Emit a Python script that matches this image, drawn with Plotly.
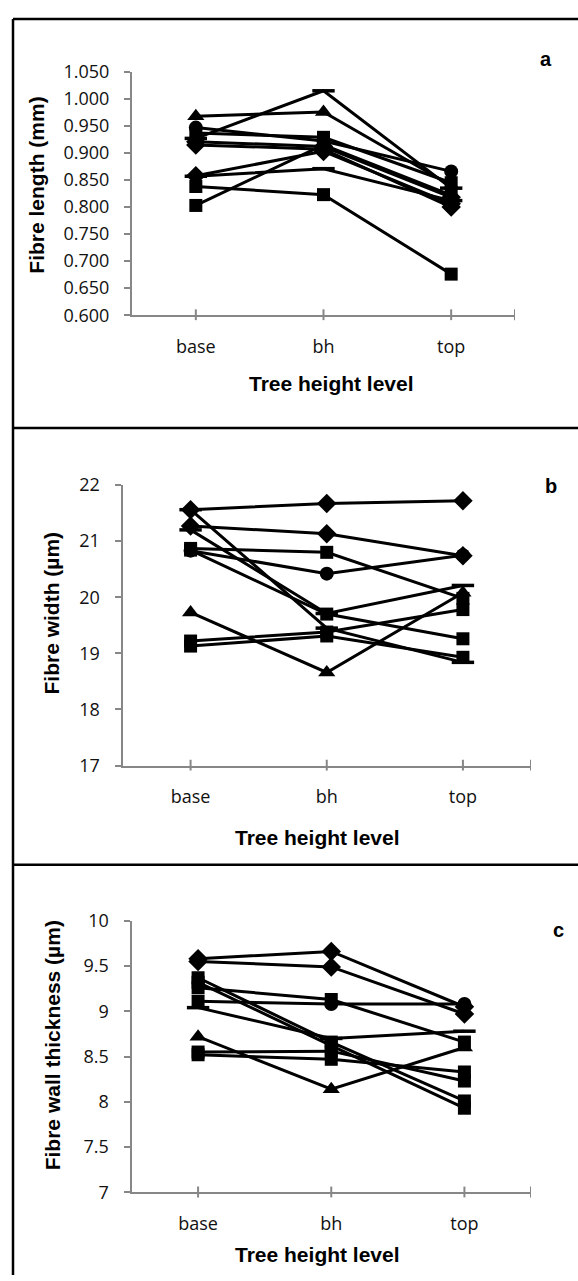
import plotly.graph_objects as go

# ---------------- data ----------------
levels = ["base", "bh", "top"]

# Panel a: fibre length (mm)
len_s1 = [0.968, 0.976, 0.840]
len_s2 = [0.927, 1.015, 0.835]
len_s3 = [0.803, 0.915, 0.822]
len_s4 = [0.838, 0.823, 0.676]
len_s5 = [0.857, 0.871, 0.812]
len_s6 = [0.858, 0.903, 0.806]
len_s7 = [0.947, 0.922, 0.866]
len_s8 = [0.937, 0.929, 0.845]
len_s9 = [0.921, 0.912, 0.818]
len_s10 = [0.915, 0.907, 0.800]

# Panel b: fibre width (um)
wid_s1 = [21.56, 21.67, 21.72]
wid_s2 = [21.27, 21.13, 20.74]
wid_s3 = [21.56, 19.45, 18.84]
wid_s4 = [21.20, 19.71, 20.21]
wid_s5 = [20.87, 20.80, 19.98]
wid_s6 = [20.83, 20.42, 20.75]
wid_s7 = [20.84, 19.70, 19.26]
wid_s8 = [19.73, 18.66, 20.08]
wid_s9 = [19.22, 19.38, 19.78]
wid_s10 = [19.13, 19.31, 18.93]

# Panel c: fibre wall thickness (um)
wall_s1 = [9.58, 9.66, 9.05]
wall_s2 = [9.55, 9.49, 8.97]
wall_s3 = [9.26, 9.13, 8.66]
wall_s4 = [9.11, 9.08, 9.08]
wall_s5 = [9.37, 8.66, 8.01]
wall_s6 = [9.32, 8.62, 7.93]
wall_s7 = [9.04, 8.70, 8.78]
wall_s8 = [8.72, 8.14, 8.60]
wall_s9 = [8.55, 8.56, 8.23]
wall_s10 = [8.52, 8.47, 8.33]

len_ticks = [0.600, 0.650, 0.700, 0.750, 0.800, 0.850, 0.900, 0.950, 1.000, 1.050]
wid_ticks = [17, 18, 19, 20, 21, 22]
wall_ticks = [7, 7.5, 8, 8.5, 9, 9.5, 10]

len_series = [(len_s1, "triangle-up"), (len_s2, "line-ew"), (len_s3, "square"), (len_s4, "square"),
              (len_s5, "line-ew"), (len_s6, "diamond"), (len_s7, "circle"), (len_s8, "square"),
              (len_s9, "diamond"), (len_s10, "diamond")]
wid_series = [(wid_s1, "diamond"), (wid_s2, "diamond"), (wid_s3, "line-ew"), (wid_s4, "line-ew"),
              (wid_s5, "square"), (wid_s6, "circle"), (wid_s7, "square"), (wid_s8, "triangle-up"),
              (wid_s9, "square"), (wid_s10, "square")]
wall_series = [(wall_s1, "diamond"), (wall_s2, "diamond"), (wall_s4, ["square", "circle", "circle"]),
               (wall_s3, "square"), (wall_s5, "square"), (wall_s6, "square"), (wall_s7, "line-ew"),
               (wall_s8, "triangle-up"), (wall_s9, "square"), (wall_s10, "square")]

# ---------------- layout geometry (pixels) ----------------
W, H = 578, 1281
def px(x):
    return x / W
def py(y):
    return 1 - y / H

panels = [
    dict(series=len_series, ytitle="Fibre length (mm)", yrange=[0.600, 1.050], ticks=len_ticks, fmt=".3f",
         x0=132, x1=515, ytop=60, ybot=308, letter="a", lpos=(546, 47), ytpos=(37, 176), xtpos=(331, 378)),
    dict(series=wid_series, ytitle="Fibre width (µm)", yrange=[17, 22], ticks=wid_ticks, fmt="",
         x0=122.5, x1=531, ytop=481, ybot=767, letter="b", lpos=(551, 482), ytpos=(52, 612), xtpos=(317, 840)),
    dict(series=wall_series, ytitle="Fibre wall thickness (µm)", yrange=[7, 10], ticks=wall_ticks, fmt="",
         x0=131.5, x1=531, ytop=925, ybot=1202, letter="c", lpos=(558, 935), ytpos=(52, 1052), xtpos=(317, 1265)),
]

SIZES = {"line-ew": 16, "square": 13, "diamond": 15, "triangle-up": 15, "circle": 14}

AXIS_GREY = "#878787"
fig = go.Figure()
shapes = []
annotations = []

for i, p in enumerate(panels):
    n = "" if i == 0 else str(i + 1)
    xa, ya = "x" + n, "y" + n
    for vals, sym in p["series"]:
        syms = sym if isinstance(sym, list) else [sym] * len(vals)
        sizes = [SIZES[s] for s in syms]
        lw = [3.5 if s == "line-ew" else 0 for s in syms]
        mk = dict(symbol=syms, size=sizes, color="black", opacity=1,
                  line=dict(width=lw, color="black"))
        fig.add_trace(go.Scatter(x=levels, y=vals, mode="lines+markers", xaxis=xa, yaxis=ya,
                                 line=dict(color="black", width=3), marker=mk, opacity=1,
                                 showlegend=False, cliponaxis=False))
    xkey = "xaxis" + n
    ykey = "yaxis" + n
    fig.layout[xkey] = dict(domain=[px(p["x0"]), px(p["x1"])], anchor=ya, type="category",
                            categoryorder="array", categoryarray=levels, range=[-0.5, 2.5],
                            showline=True, linecolor=AXIS_GREY, linewidth=2, ticks="",
                            showgrid=False, zeroline=False, ticklabelstandoff=14,
                            tickfont=dict(family="Open Sans", size=18, color="#111"))
    fig.layout[ykey] = dict(domain=[py(p["ybot"]), py(p["ytop"])], anchor=xa, range=p["yrange"],
                            tickvals=p["ticks"], tickformat=p["fmt"], showline=True, linecolor=AXIS_GREY,
                            linewidth=2, ticks="outside", ticklen=6, tickcolor=AXIS_GREY, tickwidth=2,
                            showgrid=False, zeroline=False, ticklabelstandoff=11,
                            tickfont=dict(family="Open Sans", size=18, color="#111"))
    for xv in [0, 1, 2, 2.5]:
        shapes.append(dict(type="line", xref=xa, yref="paper", x0=xv, x1=xv,
                           y0=py(p["ybot"] + 5), y1=py(p["ybot"] - 6),
                           line=dict(color=AXIS_GREY, width=2)))
    annotations.append(dict(text="<b>" + p["letter"] + "</b>", x=px(p["lpos"][0]), y=py(p["lpos"][1]),
                            xref="paper", yref="paper", showarrow=False, xanchor="center", yanchor="middle",
                            font=dict(family="Liberation Sans", size=20, color="black")))
    annotations.append(dict(text="<b>" + p["ytitle"] + "</b>", x=px(p["ytpos"][0]), y=py(p["ytpos"][1]),
                            xref="paper", yref="paper", showarrow=False, textangle=-90,
                            xanchor="center", yanchor="middle",
                            font=dict(family="Liberation Sans", size=21, color="black")))
    annotations.append(dict(text="<b>Tree height level</b>", x=px(p["xtpos"][0]), y=py(p["xtpos"][1]),
                            xref="paper", yref="paper", showarrow=False, xanchor="center", yanchor="middle",
                            font=dict(family="Liberation Sans", size=21, color="black")))

frame = dict(color="black", width=2.5)
shapes += [
    dict(type="line", xref="paper", yref="paper", x0=px(13), x1=px(13), y0=py(6), y1=py(H + 5), line=frame),
    dict(type="line", xref="paper", yref="paper", x0=px(13), x1=px(W + 5), y0=py(6), y1=py(6), line=frame),
    dict(type="line", xref="paper", yref="paper", x0=px(13), x1=px(W + 5), y0=py(423), y1=py(423), line=frame),
    dict(type="line", xref="paper", yref="paper", x0=px(13), x1=px(W + 5), y0=py(868), y1=py(868), line=frame),
]

fig.update_layout(width=W, height=H, autosize=False, margin=dict(l=0, r=0, t=0, b=0),
                  paper_bgcolor="white", plot_bgcolor="white", shapes=shapes, annotations=annotations,
                  showlegend=False)

fig.write_html("out.html", config={"displayModeBar": False, "staticPlot": True},
               post_script="document.body.style.margin='0';document.body.style.padding='0';"
                           "document.body.style.overflow='hidden';")
